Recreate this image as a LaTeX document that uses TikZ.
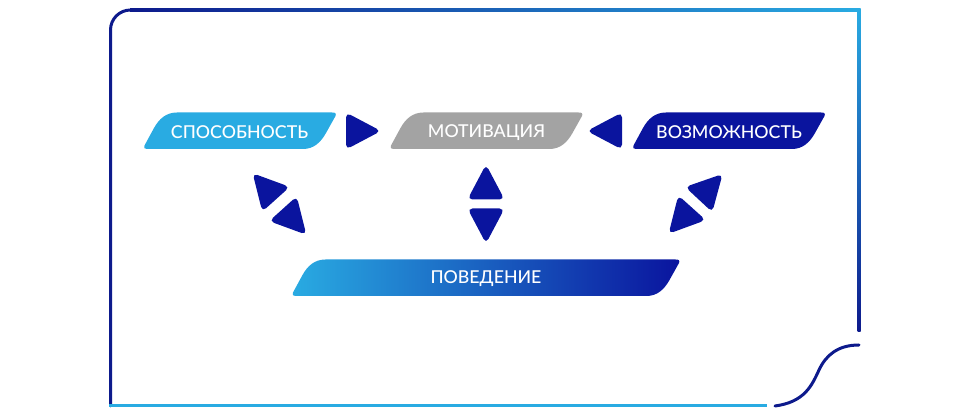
\documentclass[tikz,border=0pt]{standalone}
\usepackage{fontspec}
\setmainfont{Lato Medium}
\definecolor{boxlight}{HTML}{29ABE2}
\definecolor{boxdark}{HTML}{0A149E}
\definecolor{boxgrey}{HTML}{A3A3A3}
\definecolor{framedark}{HTML}{0D1A8C}
\tikzset{
	boxlabel/.style={text=white,inner sep=0pt,font=\fontsize{5.05}{6}\selectfont},
	arrowtri/.style={fill=boxdark,rounded corners=0.05cm},
	frameline/.style={draw=framedark,line width=0.03cm},
}
% #1 left, #2 bottom, #3 width, #4 fill options
\newcommand{\slantbox}[4]{
	\path[#4,shift={(#1,#2)}] (0.03,0) -- ({#3-0.33},0)
		.. controls ({#3-0.22},0) and ({#3-0.15},0.07) .. ({#3-0.10},0.16)
		-- ({#3-0.005},0.33) .. controls ({#3+0.005},0.36) and ({#3-0.01},0.365) .. ({#3-0.04},0.365)
		-- (0.33,0.365) .. controls (0.22,0.365) and (0.15,0.30) .. (0.10,0.21)
		-- (0.005,0.035) .. controls (-0.005,0.01) and (0.005,0) .. (0.03,0) -- cycle;
}
\begin{document}
\begin{tikzpicture}
	\useasboundingbox (0,0) rectangle (9.7,4.16);
	% frame
	\draw[frameline,line cap=round] (1.105,0.1) -- (1.105,3.86) arc[start angle=180,end angle=90,radius=0.2] -- (1.32,4.06);
	\shade[left color=framedark,right color=boxlight] (1.3,4.045) rectangle (8.6,4.075);
	\shade[top color=boxlight,bottom color=framedark] (8.575,4.075) rectangle (8.605,0.84);
	\draw[draw=boxlight,line width=0.03cm] (1.09,0.1) -- (7.67,0.1);
	\draw[frameline,line cap=round] (7.75,0.1) .. controls (8.05,0.14) and (8.12,0.31) .. (8.19,0.46)
		.. controls (8.26,0.61) and (8.38,0.71) .. (8.59,0.71);
	% boxes
	\slantbox{1.44}{2.67}{1.92}{fill=boxlight}
	\slantbox{3.905}{2.67}{1.92}{fill=boxgrey}
	\slantbox{6.33}{2.67}{1.92}{fill=boxdark}
	\slantbox{2.925}{1.2}{3.87}{left color=boxlight,right color=boxdark}
	\node[boxlabel] (ability) at (2.395,2.835) {СПОСОБНОСТЬ};
	\node[boxlabel] (motivation) at (4.865,2.835) {МОТИВАЦИЯ};
	\node[boxlabel] (opportunity) at (7.29,2.835) {ВОЗМОЖНОСТЬ};
	\node[boxlabel] (behaviour) at (4.86,1.37) {ПОВЕДЕНИЕ};
	% triangles
	\foreach \x/\y/\r in {3.625/2.85/0, 6.055/2.85/180, 4.86/2.33/90, 4.86/1.91/270,
		2.65/2.29/132, 2.94/1.95/-48, 7.10/2.285/47, 6.81/1.96/228}
		\path[arrowtri,shift={(\x,\y)},rotate=\r] (0.185,0) -- (-0.165,0.185) -- (-0.165,-0.185) -- cycle;
\end{tikzpicture}
\end{document}
